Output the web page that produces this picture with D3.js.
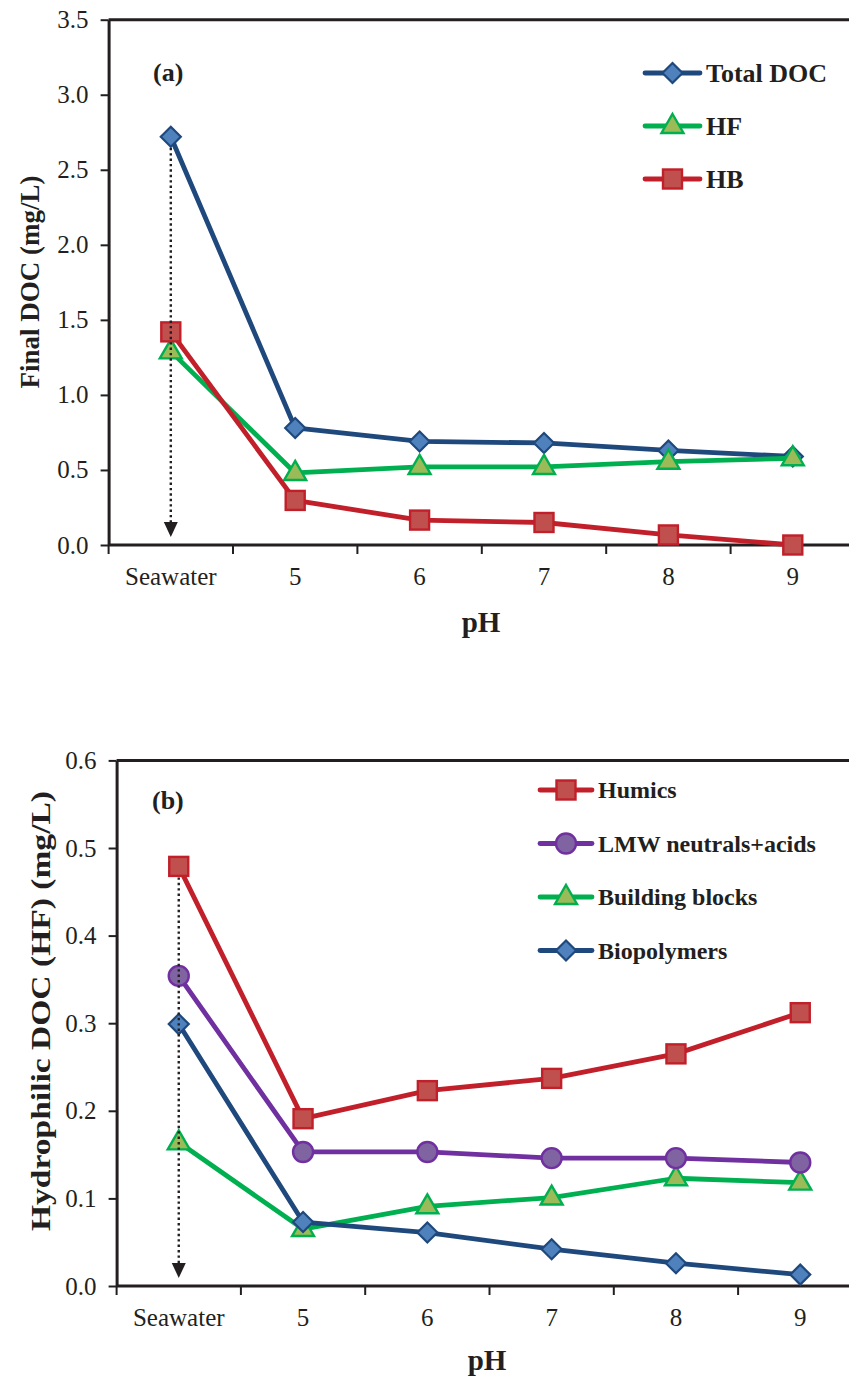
<!DOCTYPE html>
<html>
<head>
<meta charset="utf-8">
<script src="https://cdnjs.cloudflare.com/ajax/libs/d3/7.8.5/d3.min.js"></script>
<style>
  body { margin: 0; background: #fff; }
  svg { display: block; font-family: "Liberation Serif", "Times New Roman", serif; }
  .axis path, .axis line { stroke: #231f20; }
  .axis text { fill: #231f20; }
</style>
</head>
<body>
<svg id="chart" width="849" height="1380"></svg>
<script>
// x categories (shared by both panels)
const categories = ["Seawater", "5", "6", "7", "8", "9"];

// panel (a) - final DOC, mg/L
const totalDOC = [2.72, 0.78, 0.69, 0.68, 0.63, 0.59];
const hfDOC    = [1.29, 0.48, 0.52, 0.52, 0.555, 0.578];
const hbDOC    = [1.42, 0.297, 0.166, 0.15, 0.067, 0.0];
const ticksA   = [0, 0.5, 1.0, 1.5, 2.0, 2.5, 3.0, 3.5];

// panel (b) - hydrophilic DOC fractions, mg/L
const humics   = [0.479, 0.191, 0.223, 0.237, 0.265, 0.312];
const lmw      = [0.354, 0.153, 0.153, 0.146, 0.146, 0.141];
const blocks   = [0.164, 0.065, 0.091, 0.101, 0.123, 0.118];
const biopoly  = [0.299, 0.073, 0.061, 0.042, 0.026, 0.013];
const ticksB   = [0, 0.1, 0.2, 0.3, 0.4, 0.5, 0.6];

// marker styles
const STY = {
  navy:   { line: "#1f497d", fill: "#4f81bd", stroke: "#1f497d", shape: "diamond" },
  green:  { line: "#00b050", fill: "#9bbb59", stroke: "#00b050", shape: "triangle" },
  red:    { line: "#c1202a", fill: "#c0504d", stroke: "#c1202a", shape: "square" },
  purple: { line: "#7030a0", fill: "#8064a2", stroke: "#7030a0", shape: "circle" }
};

const svg = d3.select("#chart");

function marker(g, shape, x, y, st) {
  if (shape === "diamond") {
    g.append("path").attr("d", `M${x},${y-10}L${x+10},${y}L${x},${y+10}L${x-10},${y}Z`)
      .attr("fill", st.fill).attr("stroke", st.stroke).attr("stroke-width", 2.2);
  } else if (shape === "triangle") {
    g.append("path").attr("d", `M${x},${y-12}L${x+11},${y+7}L${x-11},${y+7}Z`)
      .attr("fill", st.fill).attr("stroke", st.stroke).attr("stroke-width", 2.4);
  } else if (shape === "square") {
    g.append("rect").attr("x", x-9.5).attr("y", y-9.5).attr("width", 19).attr("height", 19)
      .attr("fill", st.fill).attr("stroke", st.stroke).attr("stroke-width", 2.4);
  } else {
    g.append("circle").attr("cx", x).attr("cy", y).attr("r", 10)
      .attr("fill", st.fill).attr("stroke", st.stroke).attr("stroke-width", 2.4);
  }
}

function drawPanel(cfg) {
  const g = svg.append("g");
  const x = d3.scaleBand().domain(categories).range(cfg.xRange);
  const y = d3.scaleLinear().domain(cfg.yDomain).range(cfg.yRange);
  const cx = d => x(d) + x.bandwidth() / 2;

  // top frame line
  g.append("line").attr("x1", cfg.xRange[0]).attr("x2", 849)
    .attr("y1", cfg.yRange[1]).attr("y2", cfg.yRange[1])
    .attr("stroke", "#231f20").attr("stroke-width", 3);

  // y axis
  const ya = g.append("g").attr("class", "axis")
    .attr("transform", `translate(${cfg.xRange[0]},0)`)
    .call(d3.axisLeft(y).tickValues(cfg.ticks).tickFormat(d3.format(".1f"))
      .tickSize(8).tickSizeOuter(0).tickPadding(12));
  ya.select(".domain").attr("stroke-width", 3);
  ya.selectAll(".tick line").attr("stroke-width", 2);
  ya.selectAll("text").attr("font-size", 25).attr("font-family", "Liberation Serif");

  // x axis: line, ticks at band boundaries, labels at centres
  const xa = g.append("g").attr("class", "axis")
    .attr("transform", `translate(0,${cfg.yRange[0]})`)
    .call(d3.axisBottom(x).tickSize(0).tickPadding(22));
  xa.select(".domain").attr("d", `M${cfg.xRange[0]},0H849`).attr("stroke-width", 3);
  xa.selectAll("text").attr("font-size", 25).attr("font-family", "Liberation Serif");
  xa.selectAll(".bnd").data(categories).enter().append("line")
    .attr("x1", d => x(d)).attr("x2", d => x(d)).attr("y1", 0).attr("y2", 9)
    .attr("stroke", "#231f20").attr("stroke-width", 2);

  // series
  cfg.series.forEach(s => {
    const st = STY[s.style];
    const line = d3.line().x((d, i) => cx(categories[i])).y(d => y(d));
    g.append("path").datum(s.values).attr("d", line)
      .attr("fill", "none").attr("stroke", st.line).attr("stroke-width", 4.8)
      .attr("stroke-linejoin", "round");
    s.values.forEach((v, i) => marker(g, st.shape, cx(categories[i]), y(v), st));
  });

  // dotted arrow at seawater
  const sx = cx(categories[0]);
  const topV = d3.max(cfg.series, s => s.values[0]);
  const tipY = y(0) - 8;
  g.append("line").attr("x1", sx).attr("x2", sx)
    .attr("y1", y(topV) + 11).attr("y2", tipY - 12)
    .attr("stroke", "#231f20").attr("stroke-width", 2.4).attr("stroke-dasharray", "2.4,3");
  g.append("path").attr("d", `M${sx-7},${tipY-15}L${sx+7},${tipY-15}L${sx},${tipY}Z`)
    .attr("fill", "#231f20");

  // panel label
  g.append("text").attr("x", cfg.label[0]).attr("y", cfg.label[1])
    .attr("font-size", 26).attr("font-weight", "bold").attr("fill", "#231f20")
    .text(cfg.labelText);

  // axis titles
  g.append("text").attr("x", cfg.xTitle[0]).attr("y", cfg.xTitle[1])
    .attr("text-anchor", "middle").attr("font-size", 29).attr("font-weight", "bold")
    .attr("fill", "#231f20").text("pH");
  const yt = g.append("text")
    .attr("transform", `translate(${cfg.yTitle[0]},${cfg.yTitle[1]}) rotate(-90)`)
    .attr("text-anchor", "middle").attr("font-size", cfg.yTitleSize).attr("font-weight", "bold")
    .attr("fill", "#231f20").text(cfg.yTitleText);
  if (cfg.yTitleLen) yt.attr("textLength", cfg.yTitleLen).attr("lengthAdjust", "spacingAndGlyphs");

  // legend
  const lg = cfg.legend;
  lg.items.forEach((it, i) => {
    const st = STY[it.style];
    const ly = lg.y0 + i * lg.dy;
    g.append("line").attr("x1", lg.x0).attr("x2", lg.x1).attr("y1", ly).attr("y2", ly)
      .attr("stroke", st.line).attr("stroke-width", 4.8).attr("stroke-linecap", "round");
    marker(g, st.shape, (lg.x0 + lg.x1) / 2, ly, st);
    g.append("text").attr("x", lg.x1 + 6).attr("y", ly).attr("dy", "0.34em")
      .attr("font-size", lg.size).attr("font-weight", "bold").attr("fill", "#231f20")
      .text(it.name);
  });
}

drawPanel({
  xRange: [108.6, 855], yDomain: [0, 3.5], yRange: [545, 19.7], ticks: ticksA,
  series: [
    { values: totalDOC, style: "navy" },
    { values: hfDOC, style: "green" },
    { values: hbDOC, style: "red" }
  ],
  label: [153, 81], labelText: "(a)",
  xTitle: [481, 632],
  yTitle: [39, 282], yTitleSize: 27, yTitleText: "Final DOC (mg/L)",
  legend: { x0: 645, x1: 700, y0: 73, dy: 53, size: 26, items: [
    { name: "Total DOC", style: "navy" },
    { name: "HF", style: "green" },
    { name: "HB", style: "red" }
  ] }
});

drawPanel({
  xRange: [116.6, 862.4], yDomain: [0, 0.6], yRange: [1286, 760.4], ticks: ticksB,
  series: [
    { values: blocks, style: "green" },
    { values: biopoly, style: "navy" },
    { values: lmw, style: "purple" },
    { values: humics, style: "red" }
  ],
  label: [152, 809], labelText: "(b)",
  xTitle: [487, 1370],
  yTitle: [50, 1011], yTitleSize: 28, yTitleLen: 440, yTitleText: "Hydrophilic DOC (HF) (mg/L)",
  legend: { x0: 540, x1: 592, y0: 790, dy: 53.5, size: 24, items: [
    { name: "Humics", style: "red" },
    { name: "LMW neutrals+acids", style: "purple" },
    { name: "Building blocks", style: "green" },
    { name: "Biopolymers", style: "navy" }
  ] }
});
</script>
</body>
</html>
